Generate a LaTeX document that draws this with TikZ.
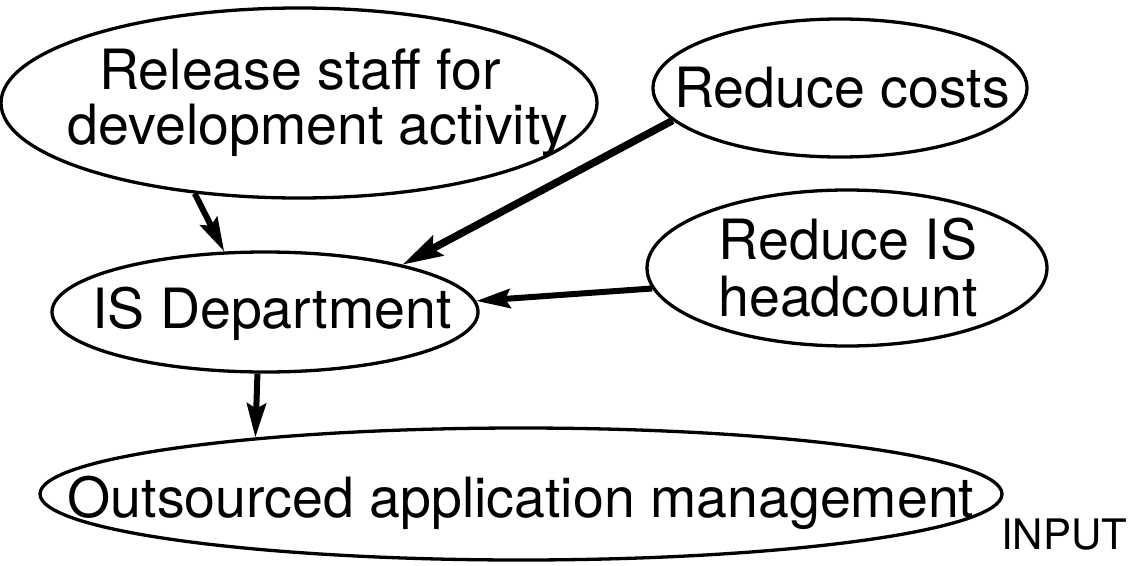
\documentclass[tikz,border=0pt]{standalone}
\usepackage{fontspec}
\setmainfont{TeX Gyre Heros}
\usetikzlibrary{shapes.geometric,arrows.meta}
\begin{document}
\begin{tikzpicture}[x=1pt,y=-1pt,
  goal/.style={draw=black,line width=3.3pt,ellipse,inner sep=0pt},
  lbl/.style={font=\fontsize{55.5}{55}\selectfont,align=center,inner sep=0pt},
  link/.style={draw=black,line width=6pt,-{Stealth[length=34pt,width=19pt,inset=5pt]}},
]
\useasboundingbox (0,0) rectangle (1132,565);
% ellipses
\node[goal,minimum width=596pt,minimum height=190pt] (rel) at (299,103) {};
\node[goal,minimum width=374pt,minimum height=138pt] (cost) at (840,88) {};
\node[goal,minimum width=400pt,minimum height=156pt] (hc) at (847,268) {};
\node[goal,minimum width=426pt,minimum height=120pt] (isd) at (265,312) {};
\node[goal,minimum width=962pt,minimum height=132pt] (oam) at (521,494) {};
% texts
\node[lbl] (relt) at (318,103) {Release staff for\hspace*{36pt}\\development activity};
\node[lbl] (costt) at (842,88) {Reduce costs};
\node[lbl,font=\fontsize{55.5}{57}\selectfont] (hct) at (848,268) {Reduce IS\\headcount};
\node[lbl] (isdt) at (272,314) {IS Department};
\node[lbl] (oamt) at (521,503) {Outsourced application management};
\node[font=\fontsize{42}{44}\selectfont,inner sep=0pt,anchor=base] (inp) at (1064,549) {INPUT};
% connectors
\draw[link] (rel.221) -- (isd.124);
\draw[link,line width=7.5pt,-{Stealth[length=40pt,width=22pt,inset=6pt]}] (cost.191) -- (isd.19);
\draw[link] (hc.186) -- (isd.3);
\draw[link] (isd.263) -- (oam.168);
\end{tikzpicture}
\end{document}
